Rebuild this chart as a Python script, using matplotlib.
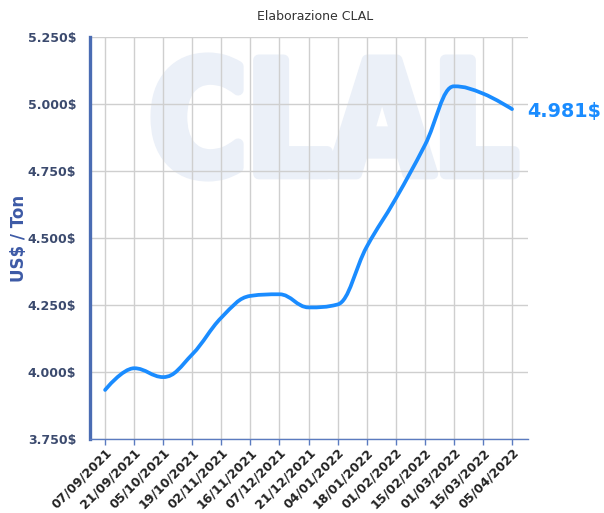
import matplotlib
matplotlib.use("Agg")
import matplotlib.pyplot as plt
from matplotlib.path import Path
from matplotlib.patches import PathPatch
from matplotlib.textpath import TextPath
from matplotlib.font_manager import FontProperties
from matplotlib.transforms import Affine2D

dates = ["07/09/2021", "21/09/2021", "05/10/2021", "19/10/2021", "02/11/2021",
         "16/11/2021", "07/12/2021", "21/12/2021", "04/01/2022", "18/01/2022",
         "01/02/2022", "15/02/2022", "01/03/2022", "15/03/2022", "05/04/2022"]
prices = [3933, 4014, 3981, 4066, 4203, 4284, 4290, 4241, 4252, 4467,
          4647, 4846, 5066, 5039, 4981]
yticks = [3750, 4000, 4250, 4500, 4750, 5000, 5250]


def fmt_price(v):
    return f"{v // 1000}.{v % 1000:03d}$"


W, H = 604, 513
fig = plt.figure(figsize=(W / 100, H / 100), dpi=100)
fig.patch.set_facecolor("white")
ax = fig.add_axes([90 / W, 74 / H, 438 / W, 402 / H])
ax.set_facecolor("white")

# faint "CLAL" watermark behind the plot
tp = TextPath((0, 0), "CLAL", prop=FontProperties(family="DejaVu Sans", weight="bold"), size=100)
bb = tp.get_extents()
x0, x1, y0, y1 = 156, 514, H - 176, H - 58
wm_tr = (Affine2D().translate(-bb.x0, -bb.y0)
         .scale((x1 - x0) / bb.width, (y1 - y0) / bb.height)
         .translate(x0, y0)
         .scale(1 / W, 1 / H)) + fig.transFigure
wm_col = "#ebf0f8"
ax.add_patch(PathPatch(tp, transform=wm_tr, facecolor=wm_col, edgecolor=wm_col,
                       lw=8, joinstyle="round", zorder=0.1, clip_on=False))


# Smooth spline through the points (cubic Bezier segments)
def spline_path(xs, ys, smoothing=1.5):
    n = len(xs)
    denom = smoothing + 1
    lc = [None] * n
    rc = [None] * n
    for i in range(1, n - 1):
        px, py = xs[i], ys[i]
        lx, ly = xs[i - 1], ys[i - 1]
        nx, ny = xs[i + 1], ys[i + 1]
        lcx = (smoothing * px + lx) / denom
        lcy = (smoothing * py + ly) / denom
        rcx = (smoothing * px + nx) / denom
        rcy = (smoothing * py + ny) / denom
        corr = ((rcy - lcy) * (rcx - px)) / (rcx - lcx) + py - rcy
        lcy += corr
        rcy += corr
        if lcy > ly and lcy > py:
            lcy = max(ly, py); rcy = 2 * py - lcy
        elif lcy < ly and lcy < py:
            lcy = min(ly, py); rcy = 2 * py - lcy
        if rcy > ny and rcy > py:
            rcy = max(ny, py); lcy = 2 * py - rcy
        elif rcy < ny and rcy < py:
            rcy = min(ny, py); lcy = 2 * py - rcy
        lc[i] = (lcx, lcy)
        rc[i] = (rcx, rcy)
    verts = [(xs[0], ys[0])]
    codes = [Path.MOVETO]
    for i in range(1, n):
        c1 = rc[i - 1] if rc[i - 1] is not None else (xs[i - 1], ys[i - 1])
        c2 = lc[i] if lc[i] is not None else (xs[i], ys[i])
        verts += [c1, c2, (xs[i], ys[i])]
        codes += [Path.CURVE4] * 3
    return Path(verts, codes)


xs = list(range(len(dates)))
line_color = "#1a8cff"
ax.add_patch(PathPatch(spline_path(xs, prices), facecolor="none", edgecolor=line_color,
                       lw=2.7, capstyle="round", joinstyle="round", zorder=3, clip_on=False))

ax.set_xlim(-0.52, len(dates) - 1 + 0.55)
ax.set_ylim(yticks[0], yticks[-1])

ax.set_xticks(xs)
ax.set_xticklabels(dates, rotation=45, ha="right", va="top", rotation_mode="anchor",
                   fontsize=9, fontweight="bold", color="#222222")
ax.set_yticks(yticks)
ax.set_yticklabels([fmt_price(v) for v in yticks],
                   fontsize=9, fontweight="bold", color="#3b4a6e")
ax.tick_params(axis="x", length=4, width=1, color="#5b7bc0", pad=1)
ax.tick_params(axis="y", length=0, pad=10)

ax.set_axisbelow(True)
ax.grid(True, color="#cfcfcf", lw=1)

for s in ["top", "right"]:
    ax.spines[s].set_visible(False)
ax.spines["left"].set_color("#4a6cb3")
ax.spines["left"].set_linewidth(2.4)
ax.spines["bottom"].set_color("#5b7bc0")
ax.spines["bottom"].set_linewidth(1)

ax.set_ylabel("US$ / Ton", fontsize=12, fontweight="bold", color="#3d5aa6")
ax.yaxis.label.set_va("center")
ax.yaxis.set_label_coords((19.5 - 90) / 438, 0.5)

fig.text(315 / W, 1 - 17 / H, "Elaborazione CLAL", fontsize=9, color="#333333",
         ha="center", va="center")

ax.annotate(fmt_price(prices[-1]), xy=(xs[-1], prices[-1]),
            xytext=(11, -1.5), textcoords="offset points", ha="left", va="center",
            fontsize=13.8, fontweight="bold", color=line_color, annotation_clip=False)

fig.savefig("out.png", dpi=100)
